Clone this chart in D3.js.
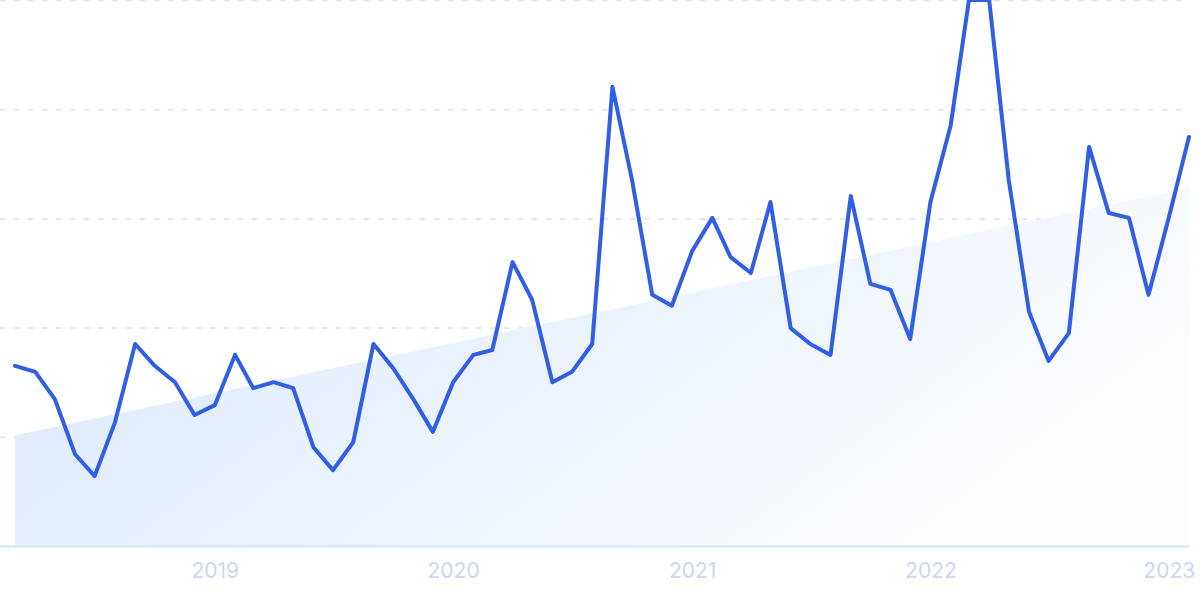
<!DOCTYPE html>
<html>
<head>
<meta charset="utf-8">
<script src="https://cdn.jsdelivr.net/npm/d3@7"></script>
<style>
  html, body { margin: 0; padding: 0; background: #ffffff; }
  svg { display: block; }
</style>
</head>
<body>
<svg id="chart" width="1200" height="599"></svg>
<script>
// Monthly index values, March 2018 – February 2023
const startMonth = "2018-03";
const values = [
  33.0, 31.9, 26.9, 16.8, 12.8, 22.6, 37.0, 33.0, 30.0, 24.0,
  25.8, 35.0, 28.9, 30.0, 28.9, 18.1, 13.9, 19.0, 37.0, 32.6,
  26.9, 20.9, 30.0, 35.0, 35.9, 52.0, 45.1, 30.0, 31.9, 37.0,
  84.1, 67.0, 46.0, 44.0, 54.0, 60.1, 52.9, 50.0, 63.0, 39.9,
  37.0, 35.0, 64.1, 48.0, 46.9, 37.9, 63.0, 77.0, 100, 100,
  67.0, 42.9, 33.9, 39.0, 73.1, 61.0, 60.1, 46.0, 60.1, 74.9
];
// Trend line (start / end value)
const trendValues = [20.3, 65.6];
const gridValues = [20, 40, 60, 80, 100];
const tickLabels = ["2019", "2020", "2021", "2022", "2023"];

const parseMonth = d3.timeParse("%Y-%m");
const start = parseMonth(startMonth);
const dates = values.map((v, i) => d3.timeMonth.offset(start, i));
const data = values.map((v, i) => ({ date: dates[i], value: v }));

const svg = d3.select("#chart");
const mLeft = 15, mRight = 1189, mTop = 0, mBottom = 546;

const x = d3.scaleTime()
  .domain([dates[0], dates[dates.length - 1]])
  .range([mLeft, mRight]);
const y = d3.scaleLinear().domain([0, 100]).range([mBottom, mTop]);

// gradient (left blue -> right white, slight diagonal)
const defs = svg.append("defs");
const grad = defs.append("linearGradient")
  .attr("id", "trendGrad")
  .attr("x1", 0).attr("y1", 0.2)
  .attr("x2", 1).attr("y2", 0.6);
grad.append("stop").attr("offset", "0%").attr("stop-color", "#dbe8fb");
grad.append("stop").attr("offset", "50%").attr("stop-color", "#ecf3fd");
grad.append("stop").attr("offset", "100%").attr("stop-color", "#fdfeff");

const clip = defs.append("clipPath").attr("id", "plotClip");
clip.append("rect").attr("x", 0).attr("y", 0).attr("width", 1200).attr("height", mBottom);

// gridlines
svg.append("g")
  .selectAll("line")
  .data(gridValues)
  .join("line")
  .attr("x1", 0).attr("x2", mRight)
  .attr("y1", d => y(d) + 0.5).attr("y2", d => y(d) + 0.5)
  .attr("stroke", "#d8e4fb")
  .attr("stroke-width", 1.5)
  .attr("stroke-dasharray", "5.5 8.5");

// trend area
const trendData = [
  { date: dates[0], value: trendValues[0] },
  { date: dates[dates.length - 1], value: trendValues[1] }
];
const area = d3.area()
  .x(d => x(d.date))
  .y0(y(0))
  .y1(d => y(d.value));
svg.append("path")
  .datum(trendData)
  .attr("d", area)
  .attr("fill", "url(#trendGrad)");

// baseline
svg.append("line")
  .attr("x1", 0).attr("x2", mRight)
  .attr("y1", mBottom + 0.5).attr("y2", mBottom + 0.5)
  .attr("stroke", "#d4e4fb")
  .attr("stroke-width", 2);

// line
const line = d3.line()
  .x(d => x(d.date))
  .y(d => y(d.value));
svg.append("path")
  .datum(data)
  .attr("d", line)
  .attr("fill", "none")
  .attr("stroke", "#2f5fe4")
  .attr("stroke-width", 4)
  .attr("stroke-linejoin", "round")
  .attr("stroke-linecap", "round")
  .attr("clip-path", "url(#plotClip)");

// x axis
const tickDates = tickLabels.map(t => d3.timeParse("%Y")(t));
const axis = d3.axisBottom(x)
  .tickValues(tickDates)
  .tickSize(0)
  .tickPadding(0)
  .tickFormat((d, i) => tickLabels[i]);
const gx = svg.append("g")
  .attr("transform", `translate(0,${mBottom})`)
  .call(axis);
gx.select(".domain").remove();
gx.selectAll("text")
  .attr("dy", null)
  .attr("y", 32)
  .attr("fill", "#cbd7f6")
  .style("font-family", "Inter, 'Open Sans', sans-serif")
  .style("font-size", "21px");
</script>
</body>
</html>
